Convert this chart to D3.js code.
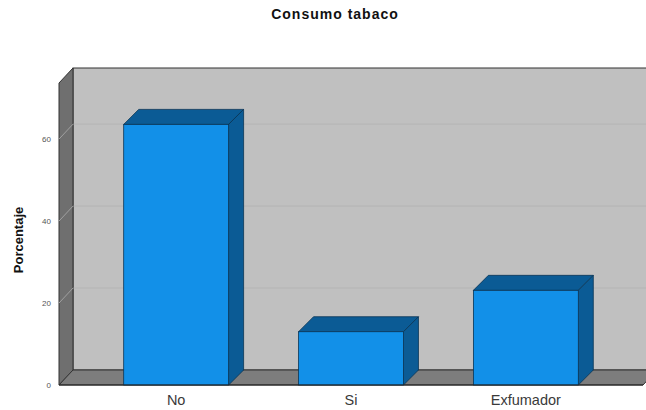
<!DOCTYPE html>
<html>
<head>
<meta charset="utf-8">
<script src="https://cdn.jsdelivr.net/npm/d3@7"></script>
<style>
  html, body { margin: 0; padding: 0; background: #fff; }
  svg { display: block; }
  text { font-family: "Liberation Sans", Arial, sans-serif; }
</style>
</head>
<body>
<div id="chart"></div>
<script>
// Consumo de tabaco: porcentaje por categoría
const categories = ["No", "Sí", "Exfumador"];
const categoryLabels = ["No", "Si", "Exfumador"];
const percentages = [63.6, 13.0, 23.1];
const yTicks = [0, 20, 40, 60];
const chartTitle = "Consumo tabaco";
const yTitle = "Porcentaje";

const W = 646, H = 410;
const front = { left: 59, right: 643, top: 83, bottom: 385 };
const depth = { dx: 14, dy: -15 };      // wall depth offset
const barDepth = { dx: 15, dy: -15 };   // bar depth offset

const svg = d3.select("#chart").append("svg")
  .attr("width", W).attr("height", H);

const x = d3.scaleBand()
  .domain(categories)
  .range([front.left, front.right])
  .paddingInner(0.4)
  .paddingOuter(0.37);

const y = d3.scaleLinear()
  .domain([0, 73.7])
  .range([front.bottom, front.top]);

const pts = a => a.map(p => p.join(",")).join(" ");

// Back wall
const bw = {
  x0: front.left + depth.dx, x1: front.right + depth.dx,
  y0: front.top + depth.dy, y1: front.bottom + depth.dy
};
svg.append("rect")
  .attr("x", bw.x0).attr("y", bw.y0)
  .attr("width", bw.x1 - bw.x0).attr("height", bw.y1 - bw.y0)
  .attr("fill", "#c0c0c0")
  .attr("stroke", "#333").attr("stroke-width", 1);

// Left wall
svg.append("polygon")
  .attr("points", pts([
    [front.left, front.top], [bw.x0, bw.y0],
    [bw.x0, bw.y1], [front.left, front.bottom]
  ]))
  .attr("fill", "#6f6f6f")
  .attr("stroke", "#333").attr("stroke-width", 1);

// Floor
svg.append("polygon")
  .attr("points", pts([
    [front.left, front.bottom], [bw.x0, bw.y1],
    [bw.x1, bw.y1], [front.right, front.bottom]
  ]))
  .attr("fill", "#7d7d7d")
  .attr("stroke", "#333").attr("stroke-width", 1);

// Grid lines on the back wall and across the left wall
const grid = svg.append("g");
yTicks.filter(t => t > 0).forEach(t => {
  grid.append("line")
    .attr("x1", bw.x0 + 0.5).attr("x2", bw.x1)
    .attr("y1", y(t) + depth.dy).attr("y2", y(t) + depth.dy)
    .attr("stroke", "#b4b4b4").attr("stroke-width", 1);
  grid.append("line")
    .attr("x1", front.left).attr("x2", bw.x0)
    .attr("y1", y(t)).attr("y2", y(t) + depth.dy)
    .attr("stroke", "#a0a0a0").attr("stroke-width", 1);
});

// Bars (front face, top and right side)
const bars = svg.append("g").selectAll("g")
  .data(categories.map((c, i) => ({ c, v: percentages[i] })))
  .join("g");

bars.append("polygon") // top
  .attr("points", d => {
    const x0 = x(d.c), x1 = x(d.c) + x.bandwidth(), yt = y(d.v);
    return pts([[x0, yt], [x0 + barDepth.dx, yt + barDepth.dy],
                [x1 + barDepth.dx, yt + barDepth.dy], [x1, yt]]);
  })
  .attr("fill", "#0b5b95").attr("stroke", "#0a3556").attr("stroke-width", 0.8);

bars.append("polygon") // side
  .attr("points", d => {
    const x1 = x(d.c) + x.bandwidth(), yt = y(d.v), yb = y(0);
    return pts([[x1, yt], [x1 + barDepth.dx, yt + barDepth.dy],
                [x1 + barDepth.dx, yb + barDepth.dy], [x1, yb]]);
  })
  .attr("fill", "#0b5b95").attr("stroke", "#0a3556").attr("stroke-width", 0.8);

bars.append("rect") // front
  .attr("x", d => x(d.c))
  .attr("y", d => y(d.v))
  .attr("width", x.bandwidth())
  .attr("height", d => y(0) - y(d.v))
  .attr("fill", "#1290e8").attr("stroke", "#0a3556").attr("stroke-width", 0.8);

// Floor front edge
svg.append("line")
  .attr("x1", front.left).attr("x2", front.right)
  .attr("y1", front.bottom).attr("y2", front.bottom)
  .attr("stroke", "#222").attr("stroke-width", 1.2);

// Y tick labels
svg.append("g").selectAll("text")
  .data(yTicks)
  .join("text")
  .attr("x", 51)
  .attr("y", t => y(t) + 3)
  .attr("text-anchor", "end")
  .attr("font-size", 8)
  .attr("fill", "#555")
  .text(t => t);

// Category labels
svg.append("g").selectAll("text")
  .data(categories)
  .join("text")
  .attr("x", c => x(c) + x.bandwidth() / 2)
  .attr("y", 405)
  .attr("text-anchor", "middle")
  .attr("font-size", 14.5)
  .attr("fill", "#3a3a3a")
  .text((c, i) => categoryLabels[i]);

// Axis title
svg.append("text")
  .attr("transform", "translate(23,240) rotate(-90)")
  .attr("text-anchor", "middle")
  .attr("font-size", 13)
  .attr("font-weight", "bold")
  .attr("fill", "#111")
  .text(yTitle);

// Chart title
svg.append("text")
  .attr("x", 335).attr("y", 19)
  .attr("text-anchor", "middle")
  .attr("font-size", 14)
  .attr("font-weight", "bold")
  .attr("letter-spacing", 1)
  .attr("fill", "#111")
  .text(chartTitle);
</script>
</body>
</html>
